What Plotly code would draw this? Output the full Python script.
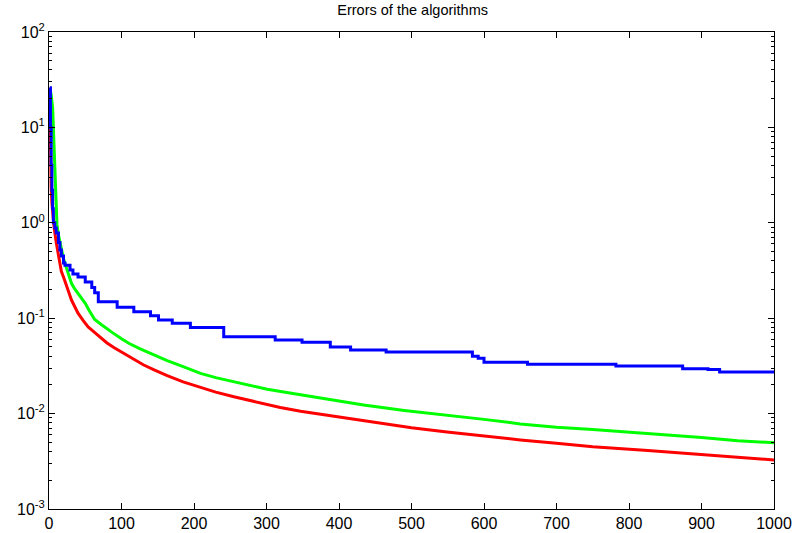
import plotly.graph_objects as go

# Red series
red_x = [1, 2, 3, 4, 5, 7, 10, 13, 17, 20, 24, 28, 31, 35, 40, 47, 54, 62, 70, 80, 90, 100, 116, 130, 145, 163, 185, 209, 230, 255, 280, 301, 319, 347, 380, 410, 434, 470, 500, 549, 600, 650, 700, 750, 826, 900, 950, 1000]
red_y = [26, 3.6, 2.3, 1.6, 1.25, 0.9, 0.62, 0.44, 0.31, 0.27, 0.214, 0.18, 0.155, 0.135, 0.113, 0.095, 0.081, 0.072, 0.064, 0.055, 0.049, 0.044, 0.037, 0.0325, 0.0288, 0.025, 0.0215, 0.0187, 0.0168, 0.0150, 0.0135, 0.0125, 0.0116, 0.0106, 0.0097, 0.0089, 0.0084, 0.0077, 0.0071, 0.0064, 0.0058, 0.0053, 0.0049, 0.0045, 0.0041, 0.0037, 0.0035, 0.00327]

# Green series
green_x = [1, 3, 5, 6, 7, 8, 9, 10, 11, 13, 15, 17, 20, 22, 26, 31, 35, 40, 45, 50, 55, 63, 72, 80, 87, 100, 110, 125, 142, 163, 185, 209, 230, 255, 280, 301, 330, 347, 390, 434, 490, 549, 600, 650, 700, 750, 826, 900, 950, 1000]
green_y = [26, 22, 16, 10, 6.0, 4.0, 2.2, 1.3, 0.95, 0.75, 0.62, 0.52, 0.42, 0.376, 0.30, 0.232, 0.205, 0.182, 0.16, 0.143, 0.122, 0.097, 0.086, 0.077, 0.071, 0.061, 0.0546, 0.048, 0.042, 0.036, 0.031, 0.0264, 0.0238, 0.0216, 0.0195, 0.018, 0.0165, 0.0157, 0.0138, 0.0123, 0.0108, 0.0097, 0.0087, 0.0078, 0.0072, 0.0068, 0.0062, 0.0056, 0.0052, 0.00495]

# Blue series (step-like)
blue_x = [1, 2, 3, 4, 5, 6, 8, 10, 13, 15, 17, 20, 22, 29, 33, 40, 50, 59, 63, 68, 94, 117, 140, 151, 170, 195, 241, 312, 349, 388, 416, 465, 584, 592, 600, 660, 782, 874, 909, 925, 1000]
blue_y = [26, 10, 4.0, 2.2, 1.4, 1.0, 0.88, 0.78, 0.62, 0.52, 0.45, 0.38, 0.36, 0.32, 0.29, 0.27, 0.24, 0.21, 0.185, 0.149, 0.130, 0.117, 0.106, 0.0958, 0.0884, 0.080, 0.064, 0.059, 0.056, 0.050, 0.0465, 0.0443, 0.040, 0.038, 0.0346, 0.033, 0.0316, 0.0295, 0.029, 0.0273, 0.0273]

x_ticks = [0, 100, 200, 300, 400, 500, 600, 700, 800, 900, 1000]
y_ticks = [1e-3, 1e-2, 1e-1, 1e0, 1e1, 1e2]
y_labels = ["10<sup>-3</sup>", "10<sup>-2</sup>", "10<sup>-1</sup>", "10<sup>0</sup>", "10<sup>1</sup>", "10<sup>2</sup>"]
y_minor = [m * d for d in y_ticks[:-1] for m in range(2, 10)]

fig = go.Figure()
fig.add_trace(go.Scatter(x=red_x, y=red_y, mode="lines", line=dict(color="#ff0000", width=3)))
fig.add_trace(go.Scatter(x=green_x, y=green_y, mode="lines", line=dict(color="#00ff00", width=3)))
fig.add_trace(go.Scatter(x=blue_x, y=blue_y, mode="lines", line=dict(color="#0000ff", width=3, shape="hv")))

fig.update_layout(
    width=792, height=533,
    margin=dict(l=49, r=18, t=32, b=24, autoexpand=False),
    paper_bgcolor="white", plot_bgcolor="white",
    showlegend=False,
    font=dict(family="Liberation Sans, Arial, sans-serif", color="black", size=16),
    title=dict(text="Errors of the algorithms", x=0.521, xanchor="center",
               yref="container", y=0.981, yanchor="middle",
               font=dict(size=14.5, color="black")),
)
fig.update_xaxes(
    range=[0, 1000], tickvals=x_ticks, ticktext=[str(v) for v in x_ticks],
    showline=True, linecolor="black", linewidth=1, mirror="ticks",
    ticks="inside", ticklen=6, tickcolor="black", showgrid=False, zeroline=False,
    tickfont=dict(size=16), automargin=False, ticklabelstandoff=0,
)
fig.update_yaxes(
    type="log", range=[-3, 2], tickvals=y_ticks, ticktext=y_labels,
    showline=True, linecolor="black", linewidth=1, mirror="ticks",
    ticks="inside", ticklen=6, tickcolor="black", showgrid=False, zeroline=False,
    tickfont=dict(size=16), automargin=False,
    minor=dict(tickvals=y_minor, ticks="inside", ticklen=3, tickcolor="black", showgrid=False),
)
fig.write_html(
    "out.html",
    config={"displayModeBar": False},
    post_script="document.body.style.margin='0';document.body.style.overflow='hidden';",
)
